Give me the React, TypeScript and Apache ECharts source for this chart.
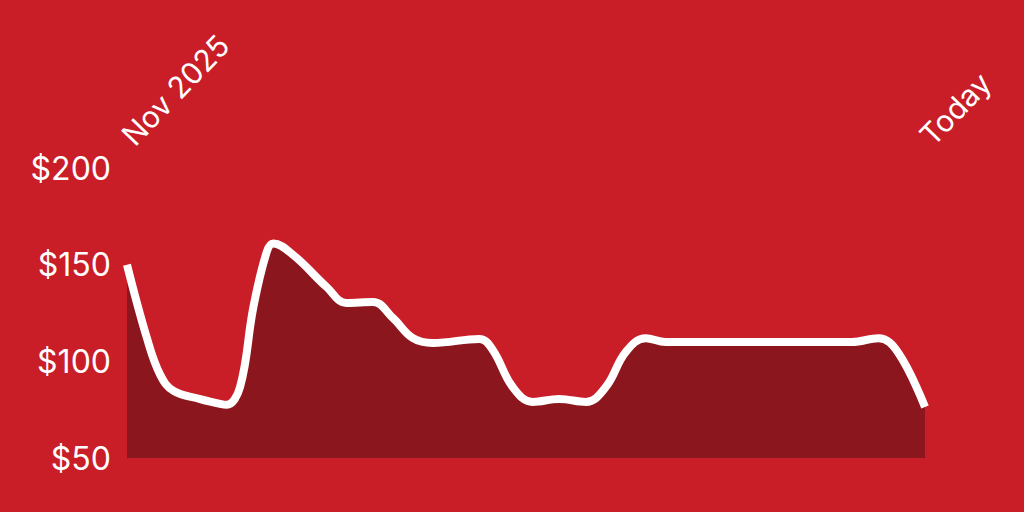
import React, { useEffect, useRef } from "react";
import * as echarts from "echarts";

const xLabels = ["Nov 2025", "Today"];
const days = [
  0, 3, 5, 7, 11, 14, 15, 17, 19, 21, 22, 25, 30, 33, 37, 40, 43, 46,
  53, 55, 58, 61, 65, 69, 72, 75, 78, 81, 109, 113, 116, 120,
];
const prices = [
  150, 112, 93, 84.7, 80.5, 78, 77.5, 86.7, 128, 156.5, 161, 155,
  138.5, 130.2, 130.7, 122.4, 112, 109.5, 111.6, 105.9, 86.7, 79, 80.5,
  79, 86.7, 104.8, 112, 110, 110, 112, 104.3, 76.4,
];
const yTicks = [50, 100, 150, 200];

const BG = "#C91D27";
const AREA = "#8B161D";
const FONT = "Inter, 'Liberation Sans', sans-serif";

export default function App() {
  const ref = useRef<HTMLDivElement>(null);
  useEffect(() => {
    if (!ref.current) return;
    const chart = echarts.init(ref.current, null, { renderer: "svg" });
    const lastDay = days[days.length - 1];
    chart.setOption({
      animation: false,
      backgroundColor: BG,
      grid: { left: 127, right: 99, top: 168, bottom: 54 },
      xAxis: {
        type: "value",
        position: "top",
        min: 0,
        max: lastDay,
        interval: lastDay,
        axisLine: { show: false },
        axisTick: { show: false },
        splitLine: { show: false },
        axisLabel: {
          rotate: -46,
          margin: 28,
          color: "#fff",
          fontSize: 30,
          fontFamily: FONT,
          showMinLabel: true,
          showMaxLabel: true,
          formatter: (v: number) =>
            v === 0 ? xLabels[0] : v === lastDay ? xLabels[1] : "",
        },
      },
      yAxis: {
        type: "value",
        min: yTicks[0],
        max: yTicks[yTicks.length - 1],
        interval: 50,
        axisLine: { show: false },
        axisTick: { show: false },
        splitLine: { show: false },
        axisLabel: {
          color: "#fff",
          fontSize: 32,
          fontFamily: FONT,
          margin: 16,
          formatter: (v: number) => "$" + v,
        },
      },
      series: [
        {
          type: "line",
          data: days.map((d, i) => [d, prices[i]]),
          smooth: 0.4,
          symbol: "none",
          lineStyle: { color: "#fff", width: 8 },
          areaStyle: { color: AREA, opacity: 1, origin: "start" },
        },
      ],
    });
    return () => chart.dispose();
  }, []);
  return (
    <div
      ref={ref}
      style={{ position: "fixed", left: 0, top: 0, width: 1024, height: 512 }}
    />
  );
}
